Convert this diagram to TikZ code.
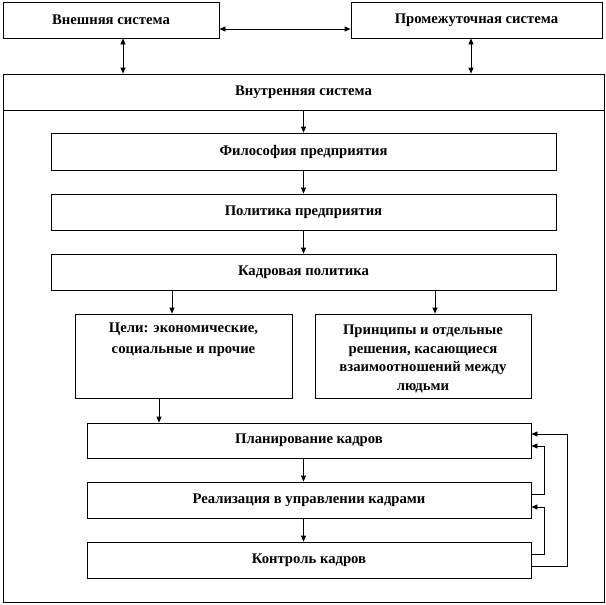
\documentclass[tikz,border=0pt]{standalone}
\usepackage{fontspec}
\setmainfont{Liberation Serif}
\usetikzlibrary{calc,arrows.meta}
\tikzset{
  box/.style={draw, line width=0.8pt, inner sep=0pt},
  txt/.style={font=\bfseries\fontsize{14.7}{18.7}\selectfont, align=center, inner sep=0pt},
  arr/.style={line width=0.8pt, -{Triangle[length=6pt,width=5pt]}},
  darr/.style={line width=0.8pt, {Triangle[length=6pt,width=5pt]}-{Triangle[length=6pt,width=5pt]}}
}
\begin{document}
\begin{tikzpicture}[x=1pt,y=-1pt]
\useasboundingbox (0,0) rectangle (606,605);
% top boxes
\node[box, minimum width=216pt, minimum height=36pt] (ext) at (111,20) {};
\node[txt] at (ext.center) {Внешняя система};
\node[box, minimum width=251pt, minimum height=36pt] (mid) at (476.5,20) {};
\node[txt] at (mid.center) {Промежуточная система};
% outer system
\node[box, minimum width=601pt, minimum height=528pt] (outer) at (303.5,338) {};
\node[box, minimum width=601pt, minimum height=36pt] (head) at (303.5,92) {};
\node[txt] at (head.center) {Внутренняя система};
% chain
\node[box, minimum width=505pt, minimum height=37pt] (phil) at (303.5,151.5) {};
\node[txt] at (phil.center) {Философия предприятия};
\node[box, minimum width=505pt, minimum height=36pt] (pol) at (303.5,212) {};
\node[txt] at (pol.center) {Политика предприятия};
\node[box, minimum width=505pt, minimum height=36pt] (kadr) at (303.5,272) {};
\node[txt] at (kadr.center) {Кадровая политика};
% goals and principles
\node[box, minimum width=217pt, minimum height=84pt] (goals) at (183.5,356) {};
\node[txt, font=\bfseries\fontsize{14.7}{21}\selectfont] at ($(goals.north)+(0,26.5)$) {Цели: экономические,\\социальные и прочие};
\node[box, minimum width=216pt, minimum height=84pt] (princ) at (423,356) {};
\node[txt] at ($(princ.center)+(0,3)$) {Принципы и отдельные\\решения, касающиеся\\взаимоотношений между\\людьми};
% lower chain
\node[box, minimum width=444pt, minimum height=35pt] (plan) at (309,440.5) {};
\node[txt] at (plan.center) {Планирование кадров};
\node[box, minimum width=444pt, minimum height=36pt] (real) at (309,500) {};
\node[txt] at (real.center) {Реализация в управлении кадрами};
\node[box, minimum width=444pt, minimum height=36pt] (ctrl) at (309,560) {};
\node[txt] at (ctrl.center) {Контроль кадров};
% helper coordinates
\coordinate (c1) at (123,0);
\coordinate (c2) at (471,0);
\coordinate (c3) at (172,0);
\coordinate (c4) at (435,0);
\coordinate (c5) at (159,0);
\coordinate (c6) at (303.5,0);
% connectors
\draw[darr] ($(ext.east)+(0,9)$) -- ($(mid.west)+(0,9)$);
\draw[darr] (ext.south -| c1) -- (head.north -| c1);
\draw[darr] (mid.south -| c2) -- (head.north -| c2);
\draw[arr] (head.south) -- (phil.north);
\draw[arr] (phil.south) -- (pol.north);
\draw[arr] (pol.south) -- (kadr.north);
\draw[arr] (kadr.south -| c3) -- (goals.north -| c3);
\draw[arr] (kadr.south -| c4) -- (princ.north -| c4);
\draw[arr] (goals.south -| c5) -- (plan.north -| c5);
\draw[arr] (plan.south -| c6) -- (real.north -| c6);
\draw[arr] (real.south -| c6) -- (ctrl.north -| c6);
% feedback
\draw[arr] ($(real.east)+(0,-6)$) -- ++(12.5,0) |- ($(plan.east)+(0,5.5)$);
\draw[arr] ($(ctrl.east)+(0,-6)$) -- ++(12.5,0) |- ($(real.east)+(0,7)$);
\draw[arr] ($(ctrl.east)+(0,6)$) -- ++(36,0) |- ($(plan.east)+(0,-6.5)$);
\end{tikzpicture}
\end{document}
